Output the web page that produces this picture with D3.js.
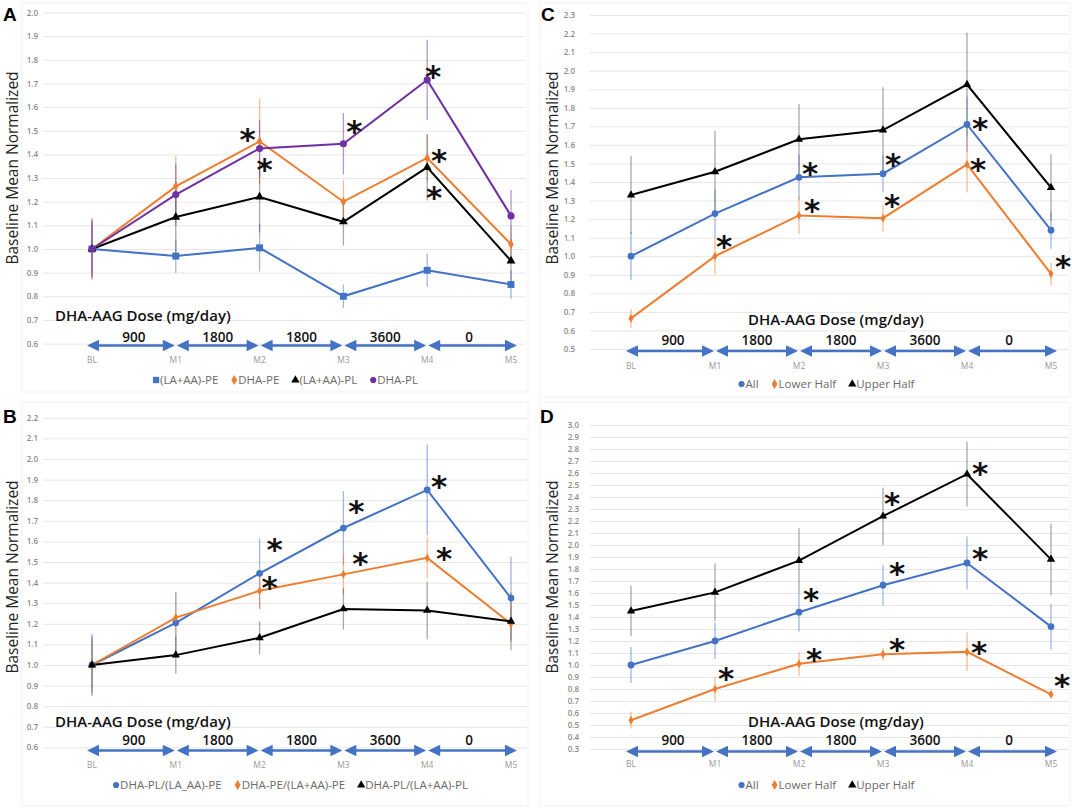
<!DOCTYPE html>
<html><head><meta charset="utf-8">
<script src="https://cdn.jsdelivr.net/npm/d3@7"></script>
<style>body{margin:0;background:#fff} svg{display:block} text{font-family:"Open Sans",sans-serif}</style>
</head><body><svg id="c" width="1072" height="811"></svg>
<script>
// ---------- shared labels ----------
const times = ["BL","M1","M2","M3","M4","M5"];
const doses = ["900","1800","1800","3600","0"];
const doseTitle = "DHA-AAG Dose (mg/day)";
const yTitle = "Baseline Mean Normalized";

// ---------- Panel A ----------
const aNames = ["(LA+AA)-PE","DHA-PE","(LA+AA)-PL","DHA-PL"];
const aLaPe    = [1.00,0.97,1.005,0.80,0.91,0.85];
const aLaPeErr = [0.10,0.07,0.10,0.05,0.07,0.06];
const aDhaPe    = [1.00,1.265,1.455,1.20,1.385,1.02];
const aDhaPeErr = [0.12,0.13,0.18,0.09,0.10,0.08];
const aLaPl    = [1.00,1.135,1.22,1.115,1.345,0.95];
const aLaPlErr = [0.12,0.15,0.15,0.10,0.14,0.09];
const aDhaPl    = [1.00,1.23,1.425,1.445,1.715,1.14];
const aDhaPlErr = [0.13,0.13,0.12,0.13,0.17,0.11];
const aTicks = [0.6,0.7,0.8,0.9,1.0,1.1,1.2,1.3,1.4,1.5,1.6,1.7,1.8,1.9,2.0];
const aStars = [[2,1.49],[2,1.364],[3,1.524],[4,1.757],[4,1.40],[4,1.245]]; // [time index, value]

// ---------- Panel B ----------
const bNames = ["DHA-PL/(LA_AA)-PE","DHA-PE/(LA+AA)-PE","DHA-PL/(LA+AA)-PL"];
const bPlPe    = [1.00,1.205,1.445,1.665,1.85,1.325];
const bPlPeErr = [0.15,0.15,0.17,0.18,0.22,0.20];
const bPePe    = [1.00,1.23,1.36,1.44,1.52,1.20];
const bPePeErr = [0.12,0.12,0.09,0.10,0.10,0.09];
const bPlPl    = [1.00,1.048,1.132,1.272,1.265,1.212];
const bPlPlErr = [0.14,0.09,0.08,0.10,0.14,0.14];
const bTicks = [0.6,0.7,0.8,0.9,1.0,1.1,1.2,1.3,1.4,1.5,1.6,1.7,1.8,1.9,2.0,2.1,2.2];
const bStars = [[2,1.59],[2,1.41],[3,1.777],[3,1.526],[4,1.90],[4,1.55]];

// ---------- Panel C ----------
const cNames = ["All","Lower Half","Upper Half"];
const cAll    = [1.00,1.23,1.425,1.445,1.71,1.14];
const cAllErr = [0.13,0.13,0.12,0.10,0.15,0.10];
const cLow    = [0.665,1.00,1.22,1.205,1.495,0.905];
const cLowErr = [0.05,0.10,0.10,0.07,0.15,0.06];
const cUp     = [1.33,1.455,1.63,1.68,1.925,1.37];
const cUpErr  = [0.21,0.22,0.19,0.23,0.28,0.18];
const cTicks = [0.5,0.6,0.7,0.8,0.9,1.0,1.1,1.2,1.3,1.4,1.5,1.6,1.7,1.8,1.9,2.0,2.1,2.2,2.3];
const cStars = [[1,1.086],[2,1.48],[2,1.28],[3,1.527],[3,1.306],[4,1.724],[4,1.50],[5,0.978]];

// ---------- Panel D ----------
const dNames = ["All","Lower Half","Upper Half"];
const dAll    = [1.00,1.20,1.44,1.665,1.85,1.32];
const dAllErr = [0.15,0.15,0.16,0.17,0.22,0.19];
const dLow    = [0.54,0.80,1.01,1.09,1.11,0.755];
const dLowErr = [0.07,0.10,0.10,0.05,0.16,0.03];
const dUp     = [1.45,1.605,1.87,2.24,2.59,1.88];
const dUpErr  = [0.21,0.24,0.27,0.24,0.27,0.30];
const dTicks = d3.range(3,31).map(v=>v/10);
const dStars = [[1,0.944],[2,1.603],[2,1.098],[3,2.40],[3,1.82],[3,1.186],[4,2.65],[4,1.944],[4,1.16],[5,0.88]];

// ---------- styles ----------
const BLUE="#4472C4", ORANGE="#ED7D31", BLACK="#000000", PURPLE="#7030A0";
const errColor = {[BLUE]:"#4472C4",[ORANGE]:"#ED7D31",[BLACK]:"#555555",[PURPLE]:"#7030A0"};

const panels = [
 {letter:"A", names:aNames, series:[aLaPe,aDhaPe,aLaPl,aDhaPl], errs:[aLaPeErr,aDhaPeErr,aLaPlErr,aDhaPlErr],
  colors:[BLUE,ORANGE,BLACK,PURPLE], symbols:[d3.symbolSquare,d3.symbolDiamond,d3.symbolTriangle,d3.symbolCircle],
  sizes:[48,26,34,40], ticks:aTicks, yDomain:[0.6,2.0], yRange:[343.6,12.5], xRange:[92,511],
  grid:[43,525], tickX:38, stars:aStars, starDx:[-12,5,11,6,12,7],
  border:[22,3,506,389], letterPos:[3,21], titleX:18, titleY:168,
  doseTitlePos:[55,321,"start"], doseY:342, arrowY:345.5, timeY:363, legendPos:[285,384]},
 {letter:"B", names:bNames, series:[bPlPe,bPePe,bPlPl], errs:[bPlPeErr,bPePeErr,bPlPlErr],
  colors:[BLUE,ORANGE,BLACK], symbols:[d3.symbolCircle,d3.symbolDiamond,d3.symbolTriangle],
  sizes:[36,22,30], ticks:bTicks, yDomain:[0.6,2.2], yRange:[747.4,417.8], xRange:[92,511],
  grid:[43,527], tickX:38, stars:bStars, starDx:[15,10,13,17,12,17],
  border:[22,402,506,404], letterPos:[3,423], titleX:18, titleY:577,
  doseTitlePos:[55,727,"start"], doseY:745, arrowY:750.5, timeY:768, legendPos:[290,789]},
 {letter:"C", names:cNames, series:[cAll,cLow,cUp], errs:[cAllErr,cLowErr,cUpErr],
  colors:[BLUE,ORANGE,BLACK], symbols:[d3.symbolCircle,d3.symbolDiamond,d3.symbolTriangle],
  sizes:[36,22,30], ticks:cTicks, yDomain:[0.5,2.3], yRange:[349,15], xRange:[631,1051],
  grid:[590,1068], tickX:575, stars:cStars, starDx:[9,11,13,10,9,13,11,12],
  border:[540,3,530,394], letterPos:[541,21], titleX:558, titleY:168,
  doseTitlePos:[748,325,"start"], doseY:345, arrowY:351, timeY:369, legendPos:[826,388]},
 {letter:"D", names:dNames, series:[dAll,dLow,dUp], errs:[dAllErr,dLowErr,dUpErr],
  colors:[BLUE,ORANGE,BLACK], symbols:[d3.symbolCircle,d3.symbolDiamond,d3.symbolTriangle],
  sizes:[36,22,30], ticks:dTicks, yDomain:[0.3,3.0], yRange:[749,425], xRange:[631,1051],
  grid:[590,1068], tickX:579, stars:dStars, starDx:[11,12,15,9,14,14,13,13,12,11],
  border:[540,402,530,404], letterPos:[540,423], titleX:558, titleY:577,
  doseTitlePos:[748,727,"start"], doseY:745, arrowY:751.5, timeY:767, legendPos:[826,789]}
];

const svg = d3.select("#c");

function drawPanel(p){
  const x = d3.scalePoint().domain(times).range(p.xRange);
  const y = d3.scaleLinear().domain(p.yDomain).range(p.yRange);
  const g = svg.append("g");

  g.append("rect").attr("x",p.border[0]).attr("y",p.border[1]).attr("width",p.border[2]).attr("height",p.border[3])
    .attr("fill","none").attr("stroke","#f1f1f1");

  // axis with gridlines
  const ax = g.append("g").attr("transform",`translate(${p.grid[0]},0)`)
    .call(d3.axisLeft(y).tickValues(p.ticks).tickFormat(d3.format(".1f"))
      .tickSize(-(p.grid[1]-p.grid[0])).tickPadding(p.grid[0]-p.tickX));
  ax.select(".domain").remove();
  ax.selectAll(".tick line").attr("stroke","#e6e6e6");
  ax.selectAll(".tick text").attr("fill","#8a8a8a").style("font-size","8px").style("font-weight","600")
    .style("font-family","'Open Sans',sans-serif");

  // error bars
  p.series.forEach((s,si)=>{
    g.append("g").selectAll("line").data(s).join("line")
      .attr("x1",(d,i)=>x(times[i])).attr("x2",(d,i)=>x(times[i]))
      .attr("y1",(d,i)=>y(d+p.errs[si][i])).attr("y2",(d,i)=>y(d-p.errs[si][i]))
      .attr("stroke",errColor[p.colors[si]]).attr("stroke-width",1.3).attr("opacity",0.5);
  });
  // lines
  const line = d3.line().x((d,i)=>x(times[i])).y(d=>y(d));
  p.series.forEach((s,si)=>{
    g.append("path").datum(s).attr("d",line).attr("fill","none")
      .attr("stroke",p.colors[si]).attr("stroke-width",2);
  });
  // markers
  p.series.forEach((s,si)=>{
    g.append("g").selectAll("path").data(s).join("path")
      .attr("transform",(d,i)=>`translate(${x(times[i])},${y(d)})`)
      .attr("d",d3.symbol(p.symbols[si],p.sizes[si])).attr("fill",p.colors[si]);
  });
  // stars
  g.append("g").selectAll("text").data(p.stars).join("text")
    .attr("x",(d,i)=>x(times[d[0]])+p.starDx[i]).attr("y",d=>y(d[1])+17)
    .attr("text-anchor","middle").style("font-family","'DejaVu Sans',sans-serif")
    .style("font-weight","bold").style("font-size","31px").attr("fill","#111").text("*");

  // dose annotation
  g.append("text").attr("x",p.doseTitlePos[0]).attr("y",p.doseTitlePos[1]).attr("text-anchor",p.doseTitlePos[2])
    .style("font-size","15px").style("font-weight","600").attr("fill","#111").text(doseTitle);
  const segs = doses.map((d,i)=>({label:d, x0:x(times[i]), x1:x(times[i+1]), i}));
  g.append("g").selectAll("text").data(segs).join("text")
    .attr("x",d=>(d.x0+d.x1)/2).attr("y",p.doseY).attr("text-anchor","middle")
    .style("font-size","13.5px").style("font-weight","600").attr("fill","#111").text(d=>d.label);
  const L=12, H=5.8;
  segs.forEach(s=>{
    const xl = s.x0 + (s.i===0?-5:1), xr = s.x1 + (s.i===doses.length-1?6:-1), ay=p.arrowY;
    g.append("line").attr("x1",xl+L-1).attr("x2",xr-L+1).attr("y1",ay).attr("y2",ay)
      .attr("stroke",BLUE).attr("stroke-width",2.7);
    g.append("path").attr("d",`M${xl},${ay}L${xl+L},${ay-H}L${xl+L},${ay+H}Z`).attr("fill",BLUE);
    g.append("path").attr("d",`M${xr},${ay}L${xr-L},${ay-H}L${xr-L},${ay+H}Z`).attr("fill",BLUE);
  });
  g.append("g").selectAll("text").data(times).join("text")
    .attr("x",d=>x(d)).attr("y",p.timeY).attr("text-anchor","middle")
    .style("font-size","8.5px").attr("fill","#9a9a9a").text(d=>d);

  // legend
  const lg = g.append("g");
  let cx = 0;
  p.names.forEach((n,i)=>{
    const it = lg.append("g");
    it.append("path").attr("d",d3.symbol(p.symbols[i], p.symbols[i]===d3.symbolSquare?40:30))
      .attr("transform",`translate(${cx+4},${-4})`).attr("fill",p.colors[i]);
    const t = it.append("text").attr("x",cx+8).attr("y",0).style("font-size","11.5px").attr("fill","#6a6a6a").text(n);
    cx += 8 + t.node().getComputedTextLength() + 12;
  });
  cx -= 12;
  lg.attr("transform",`translate(${p.legendPos[0]-cx/2},${p.legendPos[1]})`);

  // y title & letter
  g.append("text").attr("transform",`translate(${p.titleX},${p.titleY}) rotate(-90)`).attr("text-anchor","middle")
    .style("font-size","15.5px").attr("fill","#262626").text(yTitle);
  g.append("text").attr("x",p.letterPos[0]).attr("y",p.letterPos[1])
    .style("font-family","'Liberation Sans',Arial,sans-serif").style("font-weight","bold").style("font-size","19px")
    .attr("fill","#000").text(p.letter);
}
panels.forEach(drawPanel);
</script></body></html>
